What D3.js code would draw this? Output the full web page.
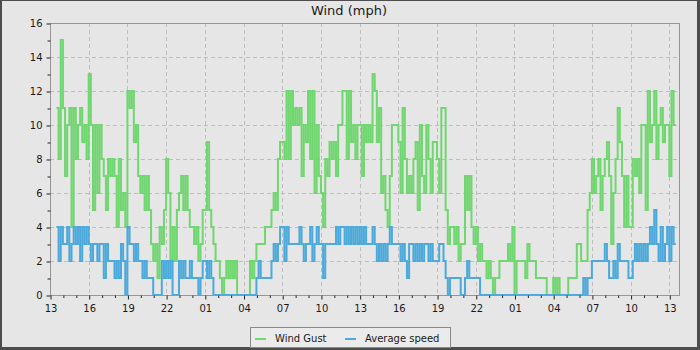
<!DOCTYPE html>
<html><head><meta charset="utf-8">
<script src="https://cdn.jsdelivr.net/npm/d3@7"></script>
<style>
body{margin:0;background:#fff}
svg{display:block}
text{font-family:"DejaVu Sans",sans-serif}
</style>
</head><body>
<svg id="chart" width="700" height="350"></svg>
<script>
// ---- data ----
const chartTitle = "Wind (mph)";
const seriesNames = ["Wind Gust", "Average speed"];
const firstSampleHour = 0.5;   // hours after 13:00 on day 1
const sampleStepHours = 1 / 6; // one reading every 10 minutes
const domainHours = [0, 48.83];

const gust = [
11,8,15,
11,7,10,11,4,11,
8,10,11,9,10,8,
13,10,5,10,6,10,
8,7,5,8,7,8,
7,4,8,5,6,4,
12,11,12,9,10,7,
6,7,5,7,5,3,
2,3,1,4,3,5,
8,6,2,4,2,5,
6,7,5,7,5,4,
4,3,4,2,3,5,
5,9,5,4,3,2,
2,1,0,1,2,1,
2,1,2,0,0,0,
0,0,0,2,1,2,
3,3,3,3,4,4,
4,5,6,5,8,9,
9,8,12,8,12,10,
11,10,11,7,10,9,
12,8,12,6,10,7,
6,4,8,7,9,8,
9,7,10,10,12,12,
8,12,9,10,8,10,
10,7,10,9,10,9,
13,12,9,11,6,7,
5,4,7,10,10,10,
9,6,11,8,6,7,
6,8,9,5,10,7,
6,10,8,6,9,9,
8,6,11,11,5,3,
4,4,3,4,2,3,
3,7,5,7,4,3,
4,2,3,2,2,1,
2,1,0,1,1,2,
2,2,2,3,2,4,
0,2,2,2,2,1,
3,2,2,2,1,1,
1,1,1,0,0,0,
1,0,1,0,0,0,
0,1,1,1,1,3,
3,2,2,2,5,6,
8,6,7,8,5,7,
8,9,7,3,6,8,
11,9,7,4,7,4,
4,8,7,8,6,10,
10,5,12,9,10,12,
8,10,11,9,10,10,
7,12,10,10
];

const avgSpeed = [
4,2,4,
3,3,4,2,3,4,
3,4,2,4,3,4,
3,2,3,3,2,3,
3,1,3,2,2,2,
1,2,1,3,2,0,
4,3,3,2,3,2,
2,1,2,1,1,1,
0,0,0,0,2,1,
2,1,2,0,0,0,
2,1,2,1,1,2,
1,1,1,0,1,2,
2,1,2,1,0,0,
0,0,0,0,0,0,
0,0,0,0,0,0,
0,0,0,0,0,0,
1,2,1,1,1,1,
1,2,3,2,3,4,
4,2,4,3,3,3,
3,3,4,3,2,3,
3,4,2,3,4,3,
3,1,3,3,3,3,
3,4,3,4,4,3,
4,3,4,3,4,3,
4,3,4,3,3,3,
4,3,2,3,2,3,
2,3,4,3,3,3,
3,2,3,2,1,3,
3,2,3,2,3,2,
3,3,2,3,2,2,
2,3,3,2,1,0,
1,1,1,1,1,0,
0,1,2,1,1,1,
1,1,0,0,0,0,
0,0,0,0,0,0,
0,0,0,0,0,0,
0,0,0,0,0,0,
0,0,0,0,0,0,
0,0,0,0,0,0,
0,0,0,0,0,0,
0,0,0,0,0,0,
0,0,1,0,1,1,
2,2,2,2,2,2,
3,2,1,1,2,1,
3,2,2,2,2,1,
1,2,3,2,3,2,
3,2,3,4,3,5,
3,2,4,2,3,4,
2,4,3,3
];

const xTickHours = [0,3,6,9,12,15,18,21,24,27,30,33,36,39,42,45,48];
const xTickLabels = ["13","16","19","22","01","04","07","10","13","16","19","22","01","04","07","10","13"];
const yTicks = [0,2,4,6,8,10,12,14,16];
const yMinorTicks = [1,3,5,7,9,11,13,15];

// ---- drawing ----
const W = 700, H = 350;
const plot = {left: 50, right: 680, top: 23, bottom: 295};
const colors = {gust: "#70d66f", avg: "#4ba9db"};

const svg = d3.select("#chart");
svg.append("rect").attr("width", W).attr("height", H).attr("fill", "#4d4d4d");
svg.append("rect").attr("x", 2).attr("y", 1).attr("width", 695).attr("height", 346).attr("fill", "#e6e6e6");

const x = d3.scaleLinear().domain(domainHours).range([plot.left, plot.right]);
const y = d3.scaleLinear().domain([0, 16]).range([plot.bottom, plot.top]);

// grid
const grid = svg.append("g").attr("stroke", "#bdbdbd").attr("stroke-dasharray", "4,3").attr("stroke-width", 1);
grid.selectAll("line.h").data(yTicks.filter(v => v > 0 && v < 16)).join("line")
  .attr("x1", plot.left).attr("x2", plot.right)
  .attr("y1", d => Math.round(y(d)) + 0.5).attr("y2", d => Math.round(y(d)) + 0.5);
grid.selectAll("line.v").data(xTickHours.filter(v => v > 0)).join("line")
  .attr("y1", plot.top).attr("y2", plot.bottom)
  .attr("x1", d => Math.round(x(d)) + 0.5).attr("x2", d => Math.round(x(d)) + 0.5);

// series
const tOf = i => firstSampleHour + i * sampleStepHours;
const line = d3.line().x((d, i) => x(tOf(i))).y(d => y(d)).curve(d3.curveStepAfter);
svg.append("defs").append("clipPath").attr("id", "clip").append("rect")
  .attr("x", plot.left).attr("y", plot.top - 2).attr("width", plot.right - plot.left).attr("height", plot.bottom - plot.top + 2);
const lines = svg.append("g").attr("clip-path", "url(#clip)");
lines.append("path").datum(gust).attr("d", line).attr("fill", "none").attr("stroke", colors.gust).attr("stroke-width", 2);
lines.append("path").datum(avgSpeed).attr("d", line).attr("fill", "none").attr("stroke", colors.avg).attr("stroke-width", 2);

// frame
svg.append("rect").attr("x", plot.left + 0.5).attr("y", plot.top + 0.5)
  .attr("width", plot.right - plot.left - 1).attr("height", plot.bottom - plot.top)
  .attr("fill", "none").attr("stroke", "#969696").attr("stroke-width", 1);

// axes
const yAxis = d3.axisLeft(y).tickValues(yTicks).tickFormat(d3.format("d")).tickSize(4).tickPadding(4);
const gy = svg.append("g").attr("transform", `translate(${plot.left + 0.5},0.5)`).call(yAxis);
const yMinor = d3.axisLeft(y).tickValues(yMinorTicks).tickFormat("").tickSize(3);
const gym = svg.append("g").attr("transform", `translate(${plot.left + 0.5},0.5)`).call(yMinor);

const xAxis = d3.axisBottom(x).tickValues(xTickHours).tickFormat((d, i) => xTickLabels[i]).tickSize(4).tickPadding(5);
const gx = svg.append("g").attr("transform", `translate(0.5,${plot.bottom + 0.5})`).call(xAxis);
const xMinorVals = d3.range(0, 49).filter(h => h % 3 !== 0);
const xMinor = d3.axisBottom(x).tickValues(xMinorVals).tickFormat("").tickSize(2.5);
const gxm = svg.append("g").attr("transform", `translate(0.5,${plot.bottom + 0.5})`).call(xMinor);

[gy, gym, gx, gxm].forEach(g => {
  g.select(".domain").remove();
  g.selectAll(".tick line").attr("stroke", "#222");
  g.selectAll(".tick text").attr("fill", "#1a1a1a").attr("font-size", 10).attr("font-family", "DejaVu Sans, sans-serif");
});

// title
svg.append("text").attr("x", 349).attr("y", 15).attr("text-anchor", "middle")
  .attr("font-size", 13).attr("fill", "#1a1a1a").text(chartTitle);

// legend
const lg = svg.append("g");
lg.append("rect").attr("x", 250.5).attr("y", 327.5).attr("width", 200).attr("height", 20)
  .attr("fill", "#ebebeb").attr("stroke", "#8a8a8a");
const legendItems = [
  {name: seriesNames[0], color: colors.gust, x: 255},
  {name: seriesNames[1], color: colors.avg, x: 345}
];
legendItems.forEach(it => {
  lg.append("line").attr("x1", it.x).attr("x2", it.x + 11).attr("y1", 339).attr("y2", 339)
    .attr("stroke", it.color).attr("stroke-width", 2);
  lg.append("text").attr("x", it.x + 20).attr("y", 341.5).attr("font-size", 10).attr("fill", "#1a1a1a").text(it.name);
});
</script>
</body></html>
